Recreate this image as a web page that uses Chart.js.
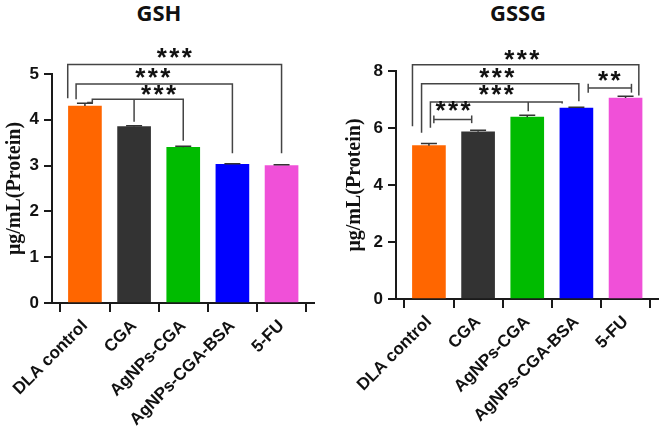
<!DOCTYPE html>
<html>
<head>
<meta charset="utf-8">
<script src="https://cdn.jsdelivr.net/npm/chart.js@4.4.0/dist/chart.umd.min.js"></script>
<style>
  body { margin: 0; background: #fff; }
  #wrap { position: relative; width: 661px; height: 428px; overflow: hidden; }
  .panel { position: absolute; top: 0; height: 428px; }
  .title { position: absolute; top: -3px; font: 700 22px "Open Sans", sans-serif; color: #111; transform: translateX(-50%); }
</style>
</head>
<body>
<div id="wrap">
  <div class="title" style="left:159px">GSH</div>
  <div class="title" style="left:518px">GSSG</div>
  <div class="panel" style="left:0;width:330px"><canvas id="gshChart" width="330" height="428"></canvas></div>
  <div class="panel" style="left:340px;width:321px"><canvas id="gssgChart" width="321" height="428"></canvas></div>
</div>
<script>
document.addEventListener('DOMContentLoaded', () => {
    "use strict";

    // data
    const groups = ['DLA control', 'CGA', 'AgNPs-CGA', 'AgNPs-CGA-BSA', '5-FU'];
    const barColors = ['#ff6600', '#333333', '#00bb00', '#0000ff', '#f050d8'];

    const gshValues = [4.30, 3.85, 3.40, 3.03, 3.00];
    const gshErrors = [0.06, 0.02, 0.02, 0.01, 0.02];
    const gshTicks = [0, 1, 2, 3, 4, 5];

    const gssgValues = [5.38, 5.87, 6.38, 6.70, 7.05];
    const gssgErrors = [0.08, 0.05, 0.07, 0.03, 0.06];
    const gssgTicks = [0, 2, 4, 6, 8];

    // significance brackets: lines as [groupIndex, value] points, stars at [groupIndex, value]
    const gshBrackets = [
        { lines: [[[-0.35, 4.47], [-0.35, 5.21], [4, 5.21], [4, 3.27]]], text: '***', at: [1.82, 5.50] },
        { lines: [[[-0.18, 4.45], [-0.18, 4.78], [3, 4.78], [3, 3.27]]], text: '***', at: [1.38, 5.07] },
        { lines: [[[0.045, 4.38], [0.15, 4.38], [0.15, 4.45], [2, 4.45], [2, 3.54]], [[1, 4.45], [1, 3.96]]], text: '***', at: [1.50, 4.69] }
    ];
    const gssgBrackets = [
        { lines: [[[-0.335, 6.06], [-0.335, 8.22], [4.27, 8.22], [4.27, 7.14]]], text: '***', at: [1.89, 8.64] },
        { lines: [[[-0.15, 5.83], [-0.15, 7.55], [3.05, 7.55], [3.05, 6.94]]], text: '***', at: [1.38, 7.99] },
        { lines: [[[0.03, 6.01], [0.03, 6.91], [2.71, 6.91], [2.71, 6.86]], [[2.02, 6.91], [2.02, 6.59]]], text: '***', at: [1.37, 7.41] },
        { lines: [[[0.1, 6.30], [0.87, 6.30]], [[0.1, 6.44], [0.1, 6.17]], [[0.87, 6.44], [0.87, 6.17]]], text: '***', at: [0.49, 6.83] },
        { lines: [[[3.24, 7.40], [4.12, 7.40]], [[3.24, 7.55], [3.24, 7.24]], [[4.12, 7.55], [4.12, 7.24]]], text: '**', at: [3.67, 7.90] }
    ];

    const axisColor = '#1a1a1a';
    const xFont = { family: '"Liberation Sans", Arial, sans-serif', size: 17, weight: 'bold' };
    const yFont = { family: '"Liberation Sans", Arial, sans-serif', size: 17, weight: 'bold' };

    // error bars (upper half) + significance brackets
    const annotations = {
        id: 'annotations',
        afterDatasetsDraw(chart, args, opts) {
            const ctx = chart.ctx;
            const xs = chart.scales.x, ys = chart.scales.y;
            const meta = chart.getDatasetMeta(0);
            ctx.save();
            ctx.strokeStyle = '#333';
            ctx.lineWidth = 1.5;
            meta.data.forEach((bar, i) => {
                const top = ys.getPixelForValue(opts.values[i]);
                const end = ys.getPixelForValue(opts.values[i] + opts.errors[i]);
                ctx.beginPath();
                ctx.moveTo(bar.x, top);
                ctx.lineTo(bar.x, end);
                ctx.moveTo(bar.x - 8, end);
                ctx.lineTo(bar.x + 8, end);
                ctx.stroke();
            });

            ctx.strokeStyle = '#444';
            ctx.lineWidth = 1.5;
            ctx.fillStyle = '#111';
            ctx.font = 'bold 26px "Liberation Sans", Arial, sans-serif';
            ctx.textAlign = 'center';
            ctx.textBaseline = 'alphabetic';
            opts.brackets.forEach(b => {
                b.lines.forEach(line => {
                    ctx.beginPath();
                    line.forEach((p, k) => {
                        const px = xs.getPixelForValue(p[0]);
                        const py = ys.getPixelForValue(p[1]);
                        if (k === 0) ctx.moveTo(px, py); else ctx.lineTo(px, py);
                    });
                    ctx.stroke();
                });
                const cx = xs.getPixelForValue(b.at[0]);
                const cy = ys.getPixelForValue(b.at[1]);
                const n = b.text.length;
                for (let k = 0; k < n; k++) {
                    ctx.fillText('*', cx + (k - (n - 1) / 2) * 12.5, cy + 15);
                }
            });
            ctx.restore();
        }
    };

    function makeChart(canvasId, values, errors, ticks, brackets, yWidth, padRight, padTop, xHeight) {
        const ctx = document.getElementById(canvasId).getContext('2d');
        return new Chart(ctx, {
            type: 'bar',
            data: {
                datasets: [{
                    data: groups.map((g, i) => ({ x: i, y: values[i] })),
                    backgroundColor: barColors,
                    borderWidth: 0,
                    barThickness: 33
                }]
            },
            options: {
                responsive: false,
                animation: false,
                layout: { padding: { top: padTop, right: padRight, left: 0, bottom: 0 } },
                plugins: {
                    legend: { display: false },
                    tooltip: { enabled: false },
                    annotations: { values: values, errors: errors, brackets: brackets }
                },
                scales: {
                    x: {
                        type: 'linear',
                        offset: false,
                        min: -0.67,
                        max: 4.66,
                        afterBuildTicks: scale => {
                            scale.ticks = groups.map((g, i) => ({ value: i }));
                        },
                        afterFit: scale => {
                            scale.height = xHeight;
                            scale.paddingLeft = 0;
                            scale.paddingRight = 0;
                        },
                        border: { color: axisColor, width: 2 },
                        grid: { drawOnChartArea: false, tickLength: 9, color: axisColor, lineWidth: 2 },
                        ticks: {
                            autoSkip: false,
                            minRotation: 45,
                            maxRotation: 45,
                            padding: 4,
                            color: '#111',
                            font: xFont,
                            callback: v => groups[v]
                        }
                    },
                    y: {
                        min: 0,
                        max: ticks[ticks.length - 1],
                        afterBuildTicks: scale => {
                            scale.ticks = ticks.map(v => ({ value: v }));
                        },
                        afterFit: scale => {
                            scale.width = yWidth;
                            scale.paddingTop = 0;
                            scale.paddingBottom = 0;
                        },
                        border: { color: axisColor, width: 2 },
                        grid: { drawOnChartArea: false, tickLength: 8, color: axisColor, lineWidth: 2 },
                        ticks: { padding: 5, color: '#111', font: yFont },
                        title: {
                            display: true,
                            text: 'μg/mL(Protein)',
                            color: '#111',
                            padding: { top: 3, bottom: 0 },
                            font: { family: '"Liberation Serif", "Times New Roman", serif', size: 20, weight: 'bold' }
                        }
                    }
                }
            },
            plugins: [annotations]
        });
    }

    makeChart('gshChart', gshValues, gshErrors, gshTicks, gshBrackets, 52, 16, 74, 125);
    makeChart('gssgChart', gssgValues, gssgErrors, gssgTicks, gssgBrackets, 56, 3, 71, 129);
});
</script>
</body>
</html>
